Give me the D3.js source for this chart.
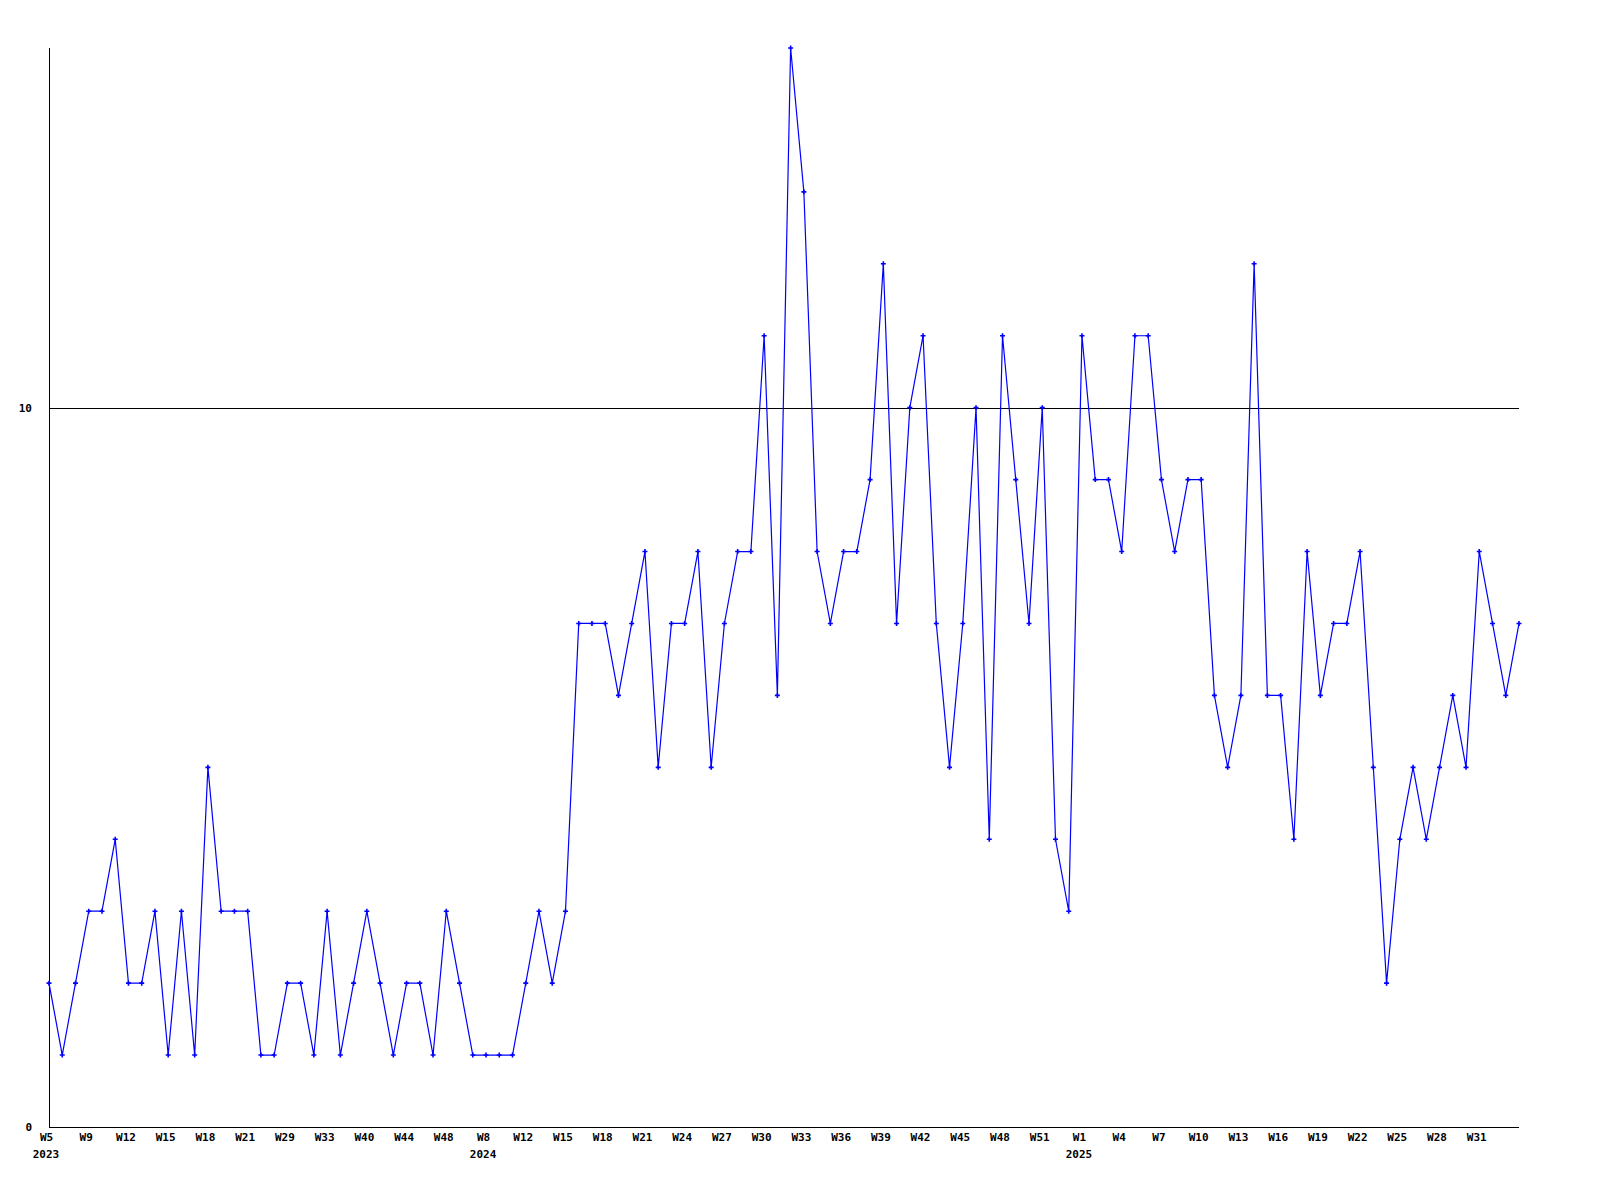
<!DOCTYPE html>
<html>
<head>
<meta charset="utf-8">
<script src="https://cdn.jsdelivr.net/npm/d3@7"></script>
<style>
  html, body { margin: 0; padding: 0; background: #fff; overflow: hidden; }
  svg { display: block; }
  svg text { font-family: "DejaVu Sans Mono", monospace; font-weight: bold; font-size: 11px; fill: #000; }
</style>
</head>
<body>
<svg id="chart" width="1600" height="1200"></svg>
<script>
// Weekly counts, one per point (2023 W5 .. 2025 W34)
const values = [
  2,1,2,3,3,4,2,2,3,1,3,1,5,3,3,3,1,1,2,2,1,3,1,2,3,2,1,2,2,1,3,2,
  1,1,1,1,2,3,2,3,7,7,7,6,7,8,5,7,7,8,5,7,8,8,11,6,15,13,8,7,8,8,9,12,
  7,10,11,7,5,7,10,4,11,9,7,10,4,3,11,9,9,8,11,11,9,8,9,9,6,5,6,12,
  6,6,4,8,6,7,7,8,5,2,4,5,4,5,6,5,8,7,6,7
];
// x-axis tick labels, one every 3 points
const weekTicks = ["W5","W9","W12","W15","W18","W21","W29","W33","W40","W44","W48",
  "W8","W12","W15","W18","W21","W24","W27","W30","W33","W36","W39","W42","W45","W48","W51",
  "W1","W4","W7","W10","W13","W16","W19","W22","W25","W28","W31"];
const yearLabels = ["2023","2024","2025"];
const yearTickPos = [0, 11, 26]; // index into weekTicks
const tickStep = 3;
const yTicks = [0, 10];
const refLine = 10;

const svg = d3.select("#chart");
const x = d3.scaleLinear().domain([0, values.length - 1]).range([49, 1519]);
const y = d3.scaleLinear().domain([0, 15]).range([1127, 48]);

// axes lines
svg.append("line").attr("x1", 49.5).attr("x2", 49.5).attr("y1", 48).attr("y2", 1127.5)
  .attr("stroke", "#000").attr("stroke-width", 1);
svg.append("line").attr("x1", 49).attr("x2", 1519).attr("y1", 1127.5).attr("y2", 1127.5)
  .attr("stroke", "#000").attr("stroke-width", 1);
// reference line at 10
svg.append("line").attr("x1", 49).attr("x2", 1519)
  .attr("y1", Math.round(y(refLine)) + 0.5).attr("y2", Math.round(y(refLine)) + 0.5)
  .attr("stroke", "#000").attr("stroke-width", 1);

// y tick labels
svg.selectAll("text.ylab").data(yTicks).join("text").attr("class", "ylab")
  .attr("x", 32).attr("y", d => y(d) + 4).attr("text-anchor", "end").text(d => d);

// x tick labels via axis
const tickIdx = weekTicks.map((_, i) => i * tickStep);
const xAxis = d3.axisBottom(x).tickValues(tickIdx).tickSize(0).tickPadding(0)
  .tickFormat((d, i) => weekTicks[i]);
const gx = svg.append("g").attr("transform", "translate(-3,1133)").call(xAxis);
gx.select(".domain").remove();
gx.selectAll("text").attr("dy", "0.71em").style("font-family", "DejaVu Sans Mono, monospace")
  .style("font-weight", "bold").style("font-size", "11px").attr("fill", "#000");

// year labels
svg.selectAll("text.year").data(yearLabels).join("text").attr("class", "year")
  .attr("x", (d, i) => x(tickIdx[yearTickPos[i]]) - 3)
  .attr("y", 1158).attr("text-anchor", "middle").text(d => d);

// line
const line = d3.line().x((d, i) => x(i)).y(d => y(d));
svg.append("path").datum(values).attr("d", line)
  .attr("fill", "none").attr("stroke", "#0000ff").attr("stroke-width", 1.2);

// markers (+)
svg.selectAll("path.mk").data(values).join("path").attr("class", "mk")
  .attr("d", (d, i) => `M${x(i) - 2.5},${y(d)}H${x(i) + 2.5}M${x(i)},${y(d) - 2.5}V${y(d) + 2.5}`)
  .attr("stroke", "#0000ff").attr("stroke-width", 1.6).attr("fill", "none");
</script>
</body>
</html>
